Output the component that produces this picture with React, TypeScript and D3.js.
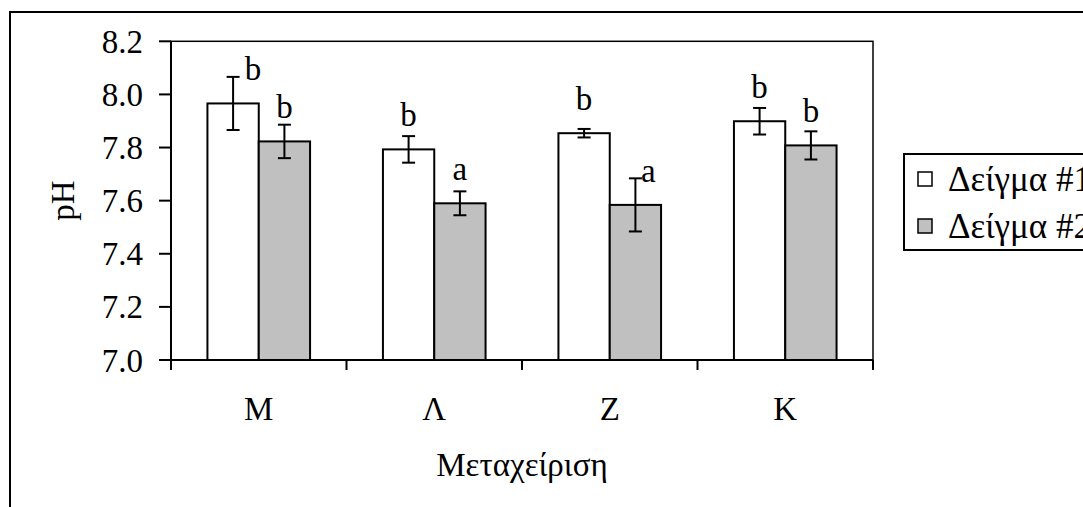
import React from "react";
import * as d3 from "d3";

// pH per treatment, two samples, with std error and significance letters
const categories = ["Μ", "Λ", "Ζ", "Κ"];
const seriesNames = ["Δείγμα #1", "Δείγμα #2"];
const sample1 = [7.966, 7.793, 7.854, 7.899];
const sample2 = [7.823, 7.59, 7.584, 7.808];
const err1 = [0.1, 0.05, 0.016, 0.05];
const err2 = [0.063, 0.045, 0.1, 0.053];
const letters1 = ["b", "b", "b", "b"];
const letters2 = ["b", "a", "a", "b"];
const yTicks = [7.0, 7.2, 7.4, 7.6, 7.8, 8.0, 8.2];

const W = 1083;
const H = 507;
const FONT = "'Liberation Serif', 'Times New Roman', Times, serif";

export default function App() {
  const plot = { left: 171, right: 873, top: 41.3, bottom: 360 };

  const y = d3.scaleLinear().domain([7.0, 8.2]).range([plot.bottom, plot.top]);
  const x0 = d3.scaleBand<string>().domain(categories).range([plot.left, plot.right]).padding(0);
  const x1 = d3
    .scaleBand<number>()
    .domain([0, 1])
    .range([0, x0.bandwidth()])
    .paddingInner(0)
    .paddingOuter(0.71);

  const values = [sample1, sample2];
  const errs = [err1, err2];
  const letters = [letters1, letters2];
  const fills = ["#ffffff", "#c0c0c0"];
  // nudges for labels that would sit on top of an error bar
  const labelDx = [
    [20, 0, 0, 0],
    [0, 0, 13, 0],
  ];

  const cap = 6.5;
  const fs = 33;
  const boundaries = [...categories.map((c) => x0(c)!), plot.right];

  return (
    <svg
      width={W}
      height={H}
      style={{ position: "absolute", left: 0, top: 0, background: "#fff", fontFamily: FONT }}
    >
      <rect x={0} y={0} width={W} height={H} fill="#fff" />
      {/* outer chart frame, runs off the page on right and bottom */}
      <rect x={10} y={12} width={1200} height={600} fill="none" stroke="#000" strokeWidth={2} />

      {/* plot area frame */}
      <rect
        x={plot.left}
        y={plot.top}
        width={plot.right - plot.left}
        height={plot.bottom - plot.top}
        fill="none"
        stroke="#000"
        strokeWidth={1.5}
      />

      {/* bars */}
      {categories.map((c, i) =>
        values.map((vals, s) => {
          const bx = x0(c)! + x1(s)!;
          const bw = x1.bandwidth();
          return (
            <rect
              key={`b${i}${s}`}
              x={bx}
              y={y(vals[i])}
              width={bw}
              height={plot.bottom - y(vals[i])}
              fill={fills[s]}
              stroke="#000"
              strokeWidth={2}
            />
          );
        })
      )}

      {/* error bars */}
      {categories.map((c, i) =>
        values.map((vals, s) => {
          const cx = x0(c)! + x1(s)! + x1.bandwidth() / 2;
          const hi = y(vals[i] + errs[s][i]);
          const lo = y(vals[i] - errs[s][i]);
          return (
            <g key={`e${i}${s}`} stroke="#000" strokeWidth={2}>
              <line x1={cx} x2={cx} y1={hi} y2={lo} />
              <line x1={cx - cap} x2={cx + cap} y1={hi} y2={hi} />
              <line x1={cx - cap} x2={cx + cap} y1={lo} y2={lo} />
            </g>
          );
        })
      )}

      {/* significance letters */}
      {categories.map((c, i) =>
        values.map((vals, s) => {
          const cx = x0(c)! + x1(s)! + x1.bandwidth() / 2;
          return (
            <text
              key={`l${i}${s}`}
              x={cx + labelDx[s][i]}
              y={y(vals[i]) - 23}
              textAnchor="middle"
              fontSize={fs}
            >
              {letters[s][i]}
            </text>
          );
        })
      )}

      {/* y axis */}
      <line x1={plot.left} x2={plot.left} y1={plot.top} y2={plot.bottom} stroke="#000" strokeWidth={2} />
      {yTicks.map((t) => (
        <g key={t}>
          <line x1={plot.left - 12} x2={plot.left} y1={y(t)} y2={y(t)} stroke="#000" strokeWidth={2} />
          <text x={143} y={y(t)} dy="0.35em" textAnchor="end" fontSize={fs}>
            {d3.format(".1f")(t)}
          </text>
        </g>
      ))}

      {/* x axis */}
      <line x1={plot.left} x2={plot.right} y1={plot.bottom} y2={plot.bottom} stroke="#000" strokeWidth={2} />
      {boundaries.map((bx, i) => (
        <line key={i} x1={bx} x2={bx} y1={plot.bottom} y2={plot.bottom + 10} stroke="#000" strokeWidth={2} />
      ))}
      {categories.map((c) => (
        <text key={c} x={x0(c)! + x0.bandwidth() / 2} y={420} textAnchor="middle" fontSize={fs}>
          {c}
        </text>
      ))}

      {/* axis titles */}
      <text x={(plot.left + plot.right) / 2} y={476} textAnchor="middle" fontSize={fs}>
        Μεταχείριση
      </text>
      <text
        transform={`translate(74,${(plot.top + plot.bottom) / 2}) rotate(-90)`}
        textAnchor="middle"
        fontSize={fs}
      >
        pH
      </text>

      {/* legend */}
      <rect x={904} y={154} width={300} height={96} fill="#fff" stroke="#000" strokeWidth={2} />
      {seriesNames.map((name, s) => {
        const cy = 179 + s * 47;
        return (
          <g key={name}>
            <rect x={918} y={cy - 7} width={14} height={14} fill={fills[s]} stroke="#000" strokeWidth={1.5} />
            <text x={948} y={cy} dy="0.35em" fontSize={35}>
              {name}
            </text>
          </g>
        );
      })}
    </svg>
  );
}
